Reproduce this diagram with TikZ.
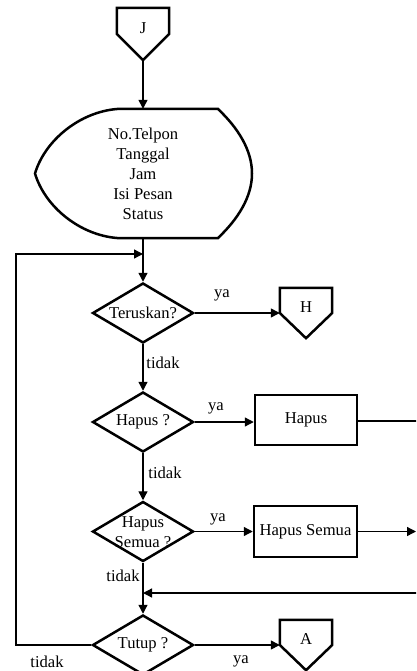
\documentclass[tikz,border=0pt]{standalone}
\usepackage{fontspec}
\setmainfont{Liberation Serif}
\usetikzlibrary{shapes.geometric,arrows.meta}
\begin{document}
\begin{tikzpicture}[x=1pt,y=-1pt,
  every node/.style={font=\fontsize{16.6}{20}\selectfont},
  thickline/.style={line width=2.5pt, line join=miter},
  arr/.style={line width=1.3pt, -{Triangle[length=9pt,width=9pt]}},
  plain/.style={line width=1.3pt},
  dec/.style={draw, thickline, shape=diamond, minimum width=101pt, minimum height=60pt, inner sep=0pt},
  proc/.style={draw, thickline, rectangle, minimum width=102pt, minimum height=50pt, inner sep=0pt},
  conn/.style={rectangle, minimum width=52pt, minimum height=50pt, inner sep=0pt},
  lbl/.style={inner sep=0pt}]
\useasboundingbox (0,0) rectangle (416,671);
\clip (0,0) rectangle (416,671);

% off-page connector J
\node[conn, minimum height=52pt] (J) at (143,34) {};
\draw[thickline] (J.north west) -- (J.north east) -- (J.east) -- (J.south) -- (J.west) -- cycle;
\node[lbl] (Jt) at ([yshift=6pt]J.center) {J};

% display
\node[inner sep=0pt, minimum width=217pt, minimum height=129pt, align=center] (disp) at (143,173.5)
  {No.Telpon\\Tanggal\\Jam\\Isi Pesan\\Status};
\draw[thickline] (117,109) -- (218,109) .. controls (238,128) and (252,150) .. (252,173.5)
  .. controls (252,197) and (238,219) .. (218,238) -- (117,238)
  .. controls (80,235) and (45,207) .. (35,173.5)
  .. controls (45,140) and (80,112) .. cycle;

% decisions
\node[dec] (d1) at (143,313) {};
\node[lbl] (d1t) at (d1.center) {Teruskan?};
\node[dec] (d2) at (143,422) {};
\node[lbl] (d2t) at (d2.center) {Hapus ?};
\node[dec] (d3) at (143,531.5) {};
\node[lbl, align=center] (d3t) at (143,532) {Hapus\\Semua ?};
\node[dec] (d4) at (143,645) {};
\node[lbl] (d4t) at (d4.center) {Tutup ?};

% processes
\node[proc] (p1) at (306,420) {Hapus};
\node[proc, minimum width=103pt, minimum height=51pt] (p2) at (305.5,531.5) {Hapus Semua};

% connectors H and A
\node[conn] (H) at (306,313) {};
\draw[thickline] (H.north west) -- (H.north east) -- (H.east) -- (H.south) -- (H.west) -- cycle;
\node[lbl] (Ht) at ([yshift=6pt]H.center) {H};
\node[conn] (A) at (306,645) {};
\draw[thickline] (A.north west) -- (A.north east) -- (A.east) -- (A.south) -- (A.west) -- cycle;
\node[lbl] (At) at ([yshift=6pt]A.center) {A};

% coordinates
\coordinate (r1) at (420,421);
\coordinate (r2) at (416,531.5);
\coordinate (r3) at (420,593);
\coordinate (m1) at (143,593);
\coordinate (l1) at (16,645);
\coordinate (l2) at (16,254);
\coordinate (m0) at (143,254);

% connectors
\draw[arr] (J.south) -- (disp.north);
\draw[arr] (disp.south) -- (d1.north);
\draw[arr] (d1.east) -- (H.west);
\draw[arr] (d1.south) -- (d2.north);
\draw[arr] (d2.east) -- (d2.east -| p1.west);
\draw[plain] (p1.east |- r1) -- (r1);
\draw[arr] (d2.south) -- (d3.north);
\draw[arr] (d3.east) -- (p2.west);
\draw[arr] (p2.east) -- (r2);
\draw[arr] (r3) -- (m1);
\draw[arr] (d3.south) -- (d4.north);
\draw[arr] (d4.east) -- (A.west);
\draw[arr] (d4.west) -- (l1) -- (l2) -- (m0);

% labels
\node[lbl] (ya1) at (222,295) {ya};
\node[lbl] (ti1) at (163,363) {tidak};
\node[lbl] (ya2) at (216,408) {ya};
\node[lbl] (ti2) at (165,473) {tidak};
\node[lbl] (ya3) at (218,519) {ya};
\node[lbl] (ti3) at (123,576) {tidak};
\node[lbl] (ti4) at (47,662) {tidak};
\node[lbl] (ya4) at (241,661) {ya};
\end{tikzpicture}
\end{document}
